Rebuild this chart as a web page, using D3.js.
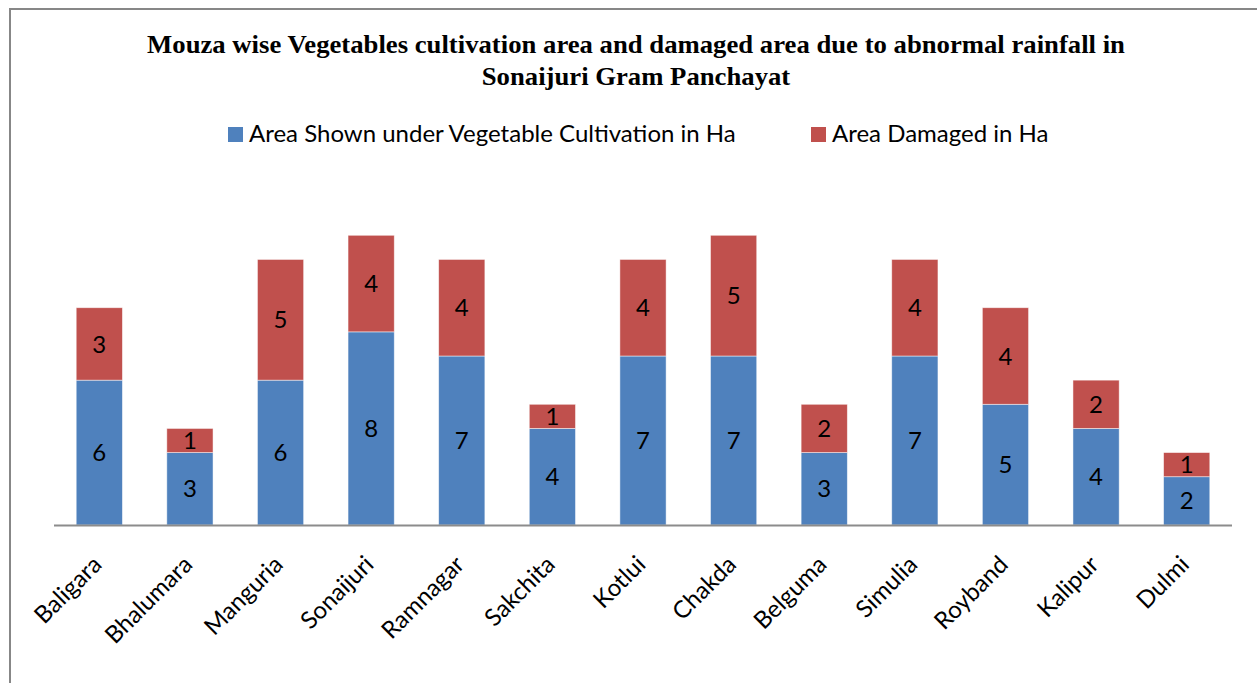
<!DOCTYPE html>
<html>
<head>
<meta charset="utf-8">
<script src="https://cdn.jsdelivr.net/npm/d3@7"></script>
<style>
  body { margin: 0; background: #fff; }
  svg { display: block; }
  .lbl { font-family: Lato, "Open Sans", sans-serif; fill: #000; }
</style>
</head>
<body>
<svg id="chart" width="1257" height="683"></svg>
<script>
  // ─── Data ─────────────────────────────────────────
  const mouzas = ['Baligara', 'Bhalumara', 'Manguria', 'Sonaijuri', 'Ramnagar', 'Sakchita',
    'Kotlui', 'Chakda', 'Belguma', 'Simulia', 'Royband', 'Kalipur', 'Dulmi'];
  const cultivated = [6, 3, 6, 8, 7, 4, 7, 7, 3, 7, 5, 4, 2];
  const damaged = [3, 1, 5, 4, 4, 1, 4, 5, 2, 4, 4, 2, 1];
  const seriesNames = ['Area Shown under Vegetable Cultivation in Ha', 'Area Damaged in Ha'];
  const colors = ['#4F81BD', '#C0504D'];

  const svg = d3.select('#chart');

  // outer frame (runs off the right/bottom edge like the original)
  svg.append('rect')
    .attr('x', 10).attr('y', 9)
    .attr('width', 1260).attr('height', 700)
    .attr('fill', 'none')
    .attr('stroke', '#878787')
    .attr('stroke-width', 2);

  // ─── Title ────────────────────────────────────────
  // slightly widened serif, the source picture is stretched horizontally
  const title = svg.append('text')
    .attr('text-anchor', 'middle')
    .attr('transform', 'translate(636,0) scale(1.068,1)')
    .style('font-family', '"Liberation Serif", "Times New Roman", serif')
    .style('font-weight', 'bold')
    .style('font-size', '25px');
  title.append('tspan').attr('x', 0).attr('y', 53)
    .text('Mouza wise Vegetables cultivation area and damaged area due to abnormal rainfall in');
  title.append('tspan').attr('x', 0).attr('y', 85)
    .text('Sonaijuri Gram Panchayat');

  // ─── Scales ───────────────────────────────────────
  const x = d3.scaleBand().domain(mouzas).range([54, 1232]).paddingInner(0.49).paddingOuter(0.245);
  const y = d3.scaleLinear().domain([0, 14]).range([525, 187]);

  const rows = mouzas.map((m, i) => ({ name: m, c: cultivated[i], d: damaged[i] }));
  const stack = d3.stack().keys(['c', 'd'])(rows);

  const groups = svg.append('g').selectAll('g')
    .data(stack).join('g')
    .attr('fill', (s, i) => colors[i]);

  groups.selectAll('rect')
    .data(s => s)
    .join('rect')
    .attr('x', d => x(d.data.name))
    .attr('width', x.bandwidth())
    .attr('y', d => y(d[1]))
    .attr('height', d => y(d[0]) - y(d[1]))
    .attr('stroke', 'rgba(255,255,255,0.6)')
    .attr('stroke-width', 0.8);

  groups.selectAll('text')
    .data(s => s)
    .join('text')
    .attr('class', 'lbl')
    .attr('x', d => x(d.data.name) + x.bandwidth() / 2)
    .attr('y', d => (y(d[0]) + y(d[1])) / 2)
    .attr('dy', '0.36em')
    .attr('text-anchor', 'middle')
    .style('font-size', '24px')
    .text(d => d[1] - d[0]);

  // ─── X axis ───────────────────────────────────────
  svg.append('line')
    .attr('x1', 54).attr('x2', 1232)
    .attr('y1', 525.5).attr('y2', 525.5)
    .attr('stroke', '#8c8c8c').attr('stroke-width', 2);

  svg.append('g').selectAll('text')
    .data(mouzas).join('text')
    .attr('class', 'lbl')
    .attr('text-anchor', 'end')
    .style('font-size', '24px')
    .attr('transform', d => `translate(${x(d) + x.bandwidth() / 2 + 4},${566}) rotate(-45)`)
    .text(d => d);

  // ─── Legend ───────────────────────────────────────
  const legendX = [228, 811];
  seriesNames.forEach((name, i) => {
    svg.append('rect')
      .attr('x', legendX[i]).attr('y', 127)
      .attr('width', 15).attr('height', 15)
      .attr('fill', colors[i]);
    svg.append('text')
      .attr('class', 'lbl')
      .attr('x', legendX[i] + 21).attr('y', 142)
      .style('font-size', '24px')
      .text(name);
  });
</script>
</body>
</html>
